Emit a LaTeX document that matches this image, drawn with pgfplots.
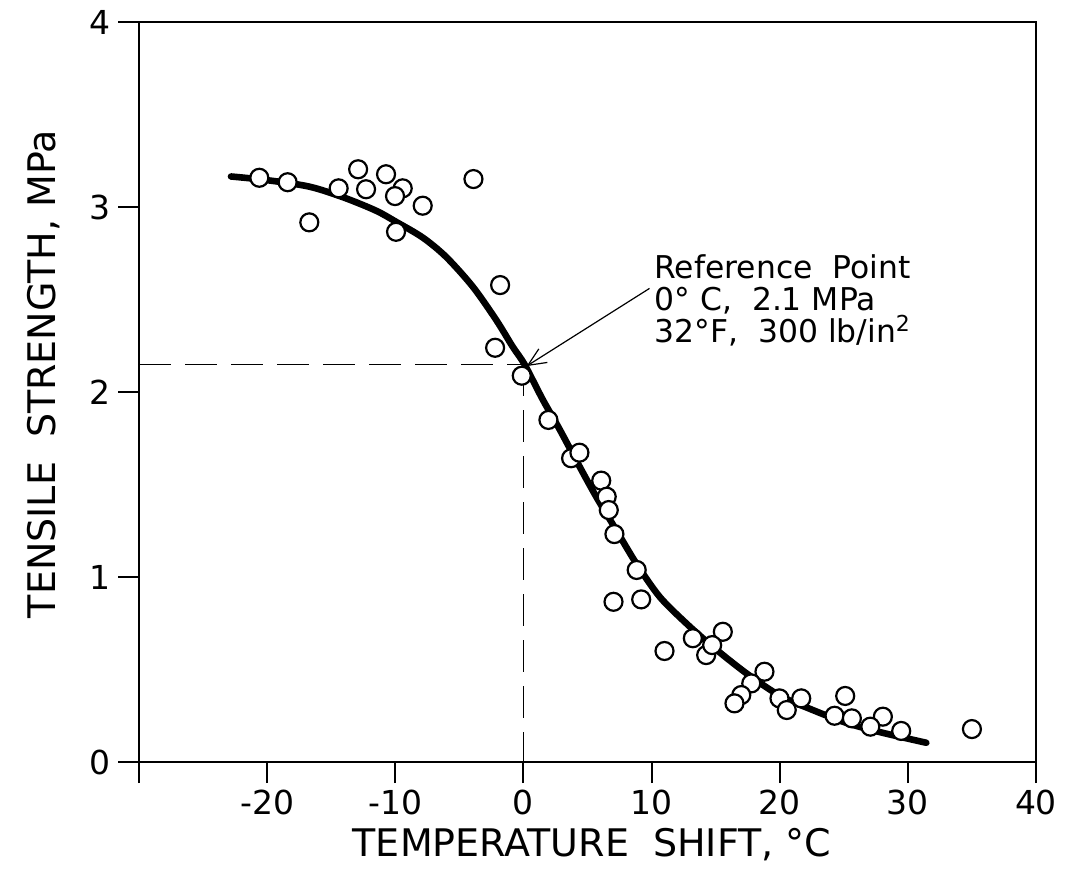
\documentclass[border=0pt]{standalone}
\usepackage{fontspec}
\setmainfont{DejaVu Sans}
\usepackage{pgfplots}
\pgfplotsset{compat=1.18}
\usetikzlibrary{arrows.meta}
\begin{document}
\begin{tikzpicture}
\begin{axis}[
  name=ax,
  scale only axis,
  width=448.5pt, height=370pt,
  xmin=-30, xmax=40, ymin=0, ymax=4,
  xtick={-30,-20,-10,0,10,20,30,40},
  xticklabels={,-20,-10,0,10,20,30,40},
  ytick={0,1,2,3,4},
  yticklabels={0,1,2,3,4},
  tick align=outside,
  xtick pos=bottom, ytick pos=left,
  major tick length=10.5pt,
  tick style={line width=1pt, black},
  axis line style={line width=1.3pt},
  ticklabel style={font=\fontsize{16.5}{18}\selectfont},
  xlabel={TEMPERATURE\ \ SHIFT, °C},
  ylabel={TENSILE\ \ STRENGTH, MPa},
  label style={font=\fontsize{19}{22}\selectfont},
  xlabel style={at={(axis description cs:0.505,-0.112)}, anchor=center},
  ylabel style={at={(axis description cs:-0.106,0.524)}, anchor=center},
  clip=false,
]
% reference dashed lines
\addplot[black, line width=0.6pt, dash pattern=on 16pt off 7pt] coordinates {(-30,2.15) (0,2.15)};
\addplot[black, line width=0.6pt, dash pattern=on 16pt off 7pt] coordinates {(0,2.15) (0,0)};
% fitted curve
\addplot[black, line width=3.3pt, smooth, line cap=round] coordinates {
(-22.82,3.165) (-20,3.145) (-16.7,3.11) (-13.97,3.05) (-11.5,2.98) (-9.94,2.92)
(-7.86,2.835) (-6.03,2.73) (-3.96,2.57) (-2.13,2.39) (-0.84,2.245) (0.08,2.15)
(1.5,1.96) (2.81,1.80) (4.24,1.615) (5.68,1.434) (7.24,1.254) (8.8,1.074)
(10.62,0.894) (12.7,0.75) (14.78,0.623) (17.39,0.48) (19.98,0.36) (22.58,0.281)
(25.18,0.212) (27.79,0.162) (31.44,0.104)
};
% data points
\addplot[only marks, mark=*, mark size=4.5pt,
  mark options={fill=white, draw=black, line width=1.1pt}] coordinates {
(-20.61,3.158) (-18.40,3.134) (-16.71,2.917) (-14.42,3.101) (-12.90,3.204)
(-12.28,3.096) (-10.72,3.177) (-9.42,3.101) (-10.02,3.059) (-7.86,3.007)
(-9.94,2.866) (-3.90,3.151) (-1.82,2.578) (-2.21,2.239) (-0.13,2.088)
(1.95,1.849) (3.72,1.642) (4.37,1.672) (6.07,1.521) (6.50,1.434)
(6.66,1.362) (7.10,1.232) (8.84,1.038) (7.03,0.866) (9.19,0.879)
(11.01,0.600) (13.22,0.669) (15.56,0.704) (14.26,0.578) (14.73,0.632)
(18.81,0.488) (17.78,0.425) (17.00,0.362) (16.47,0.317) (19.98,0.344)
(21.68,0.344) (20.55,0.281) (25.11,0.357) (24.28,0.250) (25.63,0.236)
(28.05,0.245) (27.07,0.191) (29.48,0.168) (35.0,0.178)
};
% annotation
\draw[-{Straight Barb[length=9pt,width=8pt]}, line width=0.6pt]
  (axis cs:9.84,2.56) -- (axis cs:0.25,2.14);
\node[anchor=north west, inner sep=0pt, align=left,
  font=\fontsize{15.7}{16}\selectfont] at (axis cs:10.2,2.745)
  {Reference\ \ Point\\0° C,\ \ 2.1 MPa\\32°F,\ \ 300 lb/in\textsuperscript{2}};
\end{axis}
\pgfresetboundingbox
\path[use as bounding box] ([shift={(-69.5pt,-63pt)}]ax.south west) rectangle ([shift={(18pt,11pt)}]ax.north east);
\end{tikzpicture}
\end{document}
